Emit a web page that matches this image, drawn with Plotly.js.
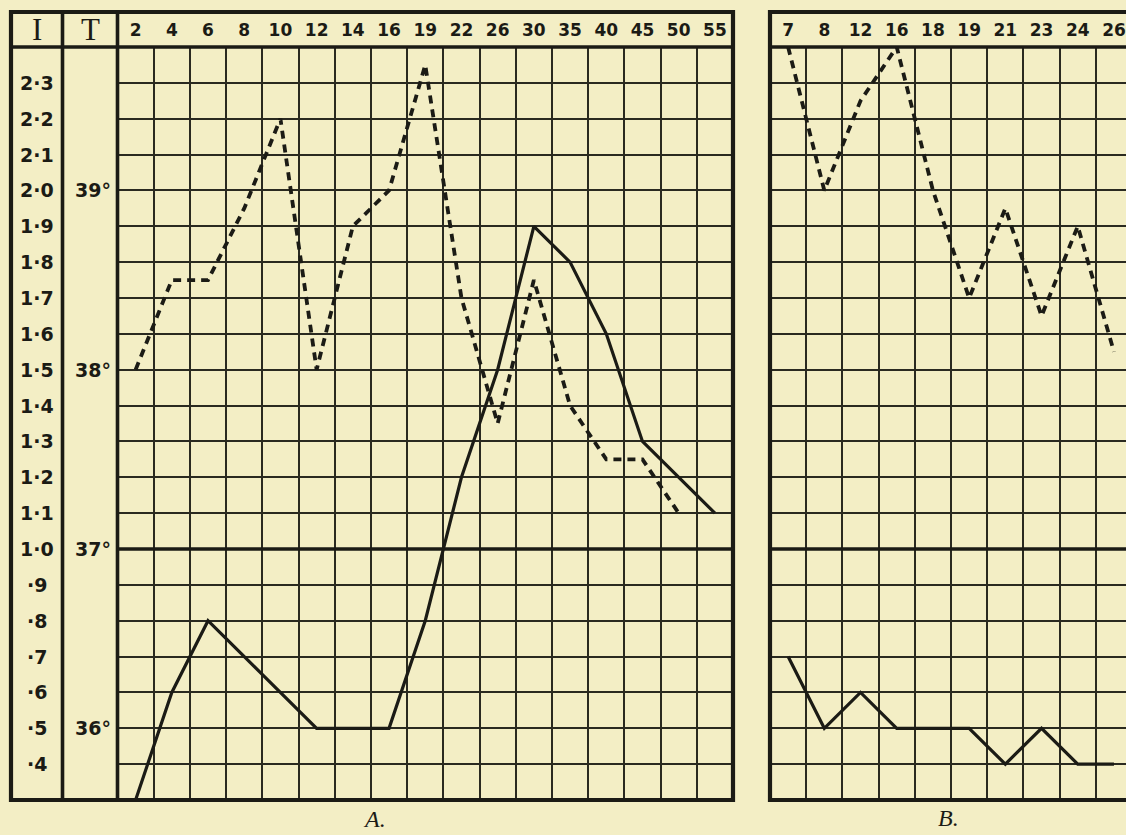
<!DOCTYPE html>
<html>
<head>
<meta charset="utf-8">
<script src="https://cdn.plot.ly/plotly-3.0.1.min.js"></script>
<style>
  html, body { margin: 0; padding: 0; background: #f3eec5; }
  #chart { width: 1126px; height: 835px; }
</style>
</head>
<body>
<div id="chart"></div>
<script>
// ---- Data ----
// Chart A: days of illness (column headers)
const daysA = ["2","4","6","8","10","12","14","16","19","22","26","30","35","40","45","50","55"];
// Dashed line: temperature (°C)
const tempA = [38.0, 38.5, 38.5, 38.9, 39.4, 38.0, 38.8, 39.0, 39.7, 38.4, 37.7, 38.5, 37.8, 37.5, 37.5, 37.2, null];
// Solid line: index I
const indexA = [0.3, 0.6, 0.8, 0.7, 0.6, 0.5, 0.5, 0.5, 0.8, 1.2, 1.5, 1.9, 1.8, 1.6, 1.3, 1.2, 1.1];

// Chart B
const daysB = ["7","8","12","16","18","19","21","23","24","26"];
const tempB = [39.8, 39.0, 39.5, 39.8, 39.0, 38.4, 38.9, 38.3, 38.8, 38.1];
const indexB = [0.7, 0.5, 0.6, 0.5, 0.5, 0.5, 0.4, 0.5, 0.4, 0.4];

// Scale column "I" tick values and labels
const iTickVals = [2.3, 2.2, 2.1, 2.0, 1.9, 1.8, 1.7, 1.6, 1.5, 1.4, 1.3, 1.2, 1.1, 1.0, 0.9, 0.8, 0.7, 0.6, 0.5, 0.4];
const iTickText = ["2·3","2·2","2·1","2·0","1·9","1·8","1·7","1·6","1·5","1·4","1·3","1·2","1·1","1·0","·9","·8","·7","·6","·5","·4"];
// Scale column "T" tick values and labels
const tTickVals = [39, 38, 37, 36];
const tTickText = ["39°", "38°", "37°", "36°"];
const normalTemp = 37;      // heavy reference line
const normalIndex = 1.0;
const panelLabels = ["A.", "B."];

// ---- Layout helpers ----
const W = 1126, H = 835;
const px = x => x / W;
const py = y => 1 - y / H;

const INK = "#1b1b15";
const GRID = "#2a2a20";
const BG = "#f3eec5";

const yDomain = [py(800), py(47)];
const iRange = [0.3, 2.4];
const tRange = [normalTemp + (iRange[0] - normalIndex) * 2, normalTemp + (iRange[1] - normalIndex) * 2];

const solidLine = { color: INK, width: 3.2 };
const dashLine = { color: INK, width: 3.8, dash: "8px,6px" };

const traces = [
  { x: daysA, y: indexA, xaxis: "x", yaxis: "y", type: "scatter", mode: "lines", line: solidLine, hoverinfo: "skip" },
  { x: daysA, y: tempA, xaxis: "x", yaxis: "y2", type: "scatter", mode: "lines", line: dashLine, connectgaps: false, hoverinfo: "skip" },
  { x: daysB, y: indexB, xaxis: "x2", yaxis: "y3", type: "scatter", mode: "lines", line: solidLine, hoverinfo: "skip" },
  { x: daysB, y: tempB, xaxis: "x2", yaxis: "y4", type: "scatter", mode: "lines", line: dashLine, hoverinfo: "skip" }
];

const labelFont = { family: "DejaVu Sans", size: 17, color: INK, weight: "bold" };
const scaleFont = { family: "DejaVu Sans", size: 19, color: INK, weight: "bold" };

const xCommon = {
  type: "category", side: "top", tickson: "boundaries", ticks: "",
  showgrid: true, gridcolor: GRID, gridwidth: 2, showline: false, zeroline: false,
  tickfont: labelFont, ticklabelstandoff: 7,
  fixedrange: true
};
const yCommon = {
  range: iRange, tick0: 0, dtick: 0.1, showticklabels: false, ticks: "",
  showgrid: true, gridcolor: GRID, gridwidth: 2, zeroline: false, showline: false,
  domain: yDomain, fixedrange: true
};

const annotations = [];
iTickVals.forEach((v, k) => annotations.push({
  xref: "paper", yref: "y", x: px(37), y: v, text: iTickText[k], showarrow: false,
  xanchor: "center", yanchor: "middle", font: scaleFont
}));
tTickVals.forEach((v, k) => annotations.push({
  xref: "paper", yref: "y2", x: px(93), y: v, text: tTickText[k], showarrow: false,
  xanchor: "center", yanchor: "middle", font: scaleFont
}));
annotations.push({ xref: "paper", yref: "paper", x: px(37), y: py(29), text: "I", showarrow: false,
  xanchor: "center", yanchor: "middle", font: { family: "Liberation Serif", size: 31, color: INK } });
annotations.push({ xref: "paper", yref: "paper", x: px(90), y: py(29), text: "T", showarrow: false,
  xanchor: "center", yanchor: "middle", font: { family: "Liberation Serif", size: 31, color: INK } });
annotations.push({ xref: "paper", yref: "paper", x: px(374), y: py(819), text: "<i>" + panelLabels[0] + "</i>", showarrow: false,
  xanchor: "center", yanchor: "middle", font: { family: "Liberation Serif", size: 24, color: INK } });
annotations.push({ xref: "paper", yref: "paper", x: px(948), y: py(818), text: "<i>" + panelLabels[1] + "</i>", showarrow: false,
  xanchor: "center", yanchor: "middle", font: { family: "Liberation Serif", size: 24, color: INK } });

const border = { color: INK, width: 4.2 };
const divider = { color: INK, width: 3.6 };
const shapes = [
  // Panel A frame
  { type: "rect", xref: "paper", yref: "paper", x0: px(11), x1: px(733), y0: py(12), y1: py(800), line: border },
  { type: "line", xref: "paper", yref: "paper", x0: px(11), x1: px(733), y0: py(47), y1: py(47), line: divider },
  { type: "line", xref: "paper", yref: "paper", x0: px(62.5), x1: px(62.5), y0: py(12), y1: py(800), line: divider },
  { type: "line", xref: "paper", yref: "paper", x0: px(117.5), x1: px(117.5), y0: py(12), y1: py(800), line: divider },
  // Panel B frame (cut off at right)
  { type: "rect", xref: "paper", yref: "paper", x0: px(770), x1: px(1140), y0: py(12), y1: py(800), line: border },
  { type: "line", xref: "paper", yref: "paper", x0: px(770), x1: px(1140), y0: py(47), y1: py(47), line: divider },
  // 37° heavy lines
  { type: "line", xref: "x domain", yref: "y", x0: 0, x1: 1, y0: normalIndex, y1: normalIndex, line: { color: INK, width: 3.6 } },
  { type: "line", xref: "x2 domain", yref: "y3", x0: 0, x1: 1, y0: normalIndex, y1: normalIndex, line: { color: INK, width: 3.6 } }
];

const colW = (733 - 117.5) / daysA.length;
const bVisibleCols = (W - 770) / colW;

const layout = {
  width: W, height: H,
  margin: { l: 0, r: 0, t: 0, b: 0, pad: 0 },
  paper_bgcolor: BG, plot_bgcolor: BG,
  showlegend: false,
  xaxis: Object.assign({}, xCommon, { domain: [px(117.5), px(733)], anchor: "y",
    categoryorder: "array", categoryarray: daysA, range: [-0.5, daysA.length - 0.5] }),
  xaxis2: Object.assign({}, xCommon, { domain: [px(770), 1], anchor: "y3",
    categoryorder: "array", categoryarray: daysB, range: [-0.5, -0.5 + bVisibleCols] }),
  yaxis: Object.assign({}, yCommon, { anchor: "x" }),
  yaxis2: { overlaying: "y", anchor: "x", range: tRange, visible: false, showgrid: false, fixedrange: true },
  yaxis3: Object.assign({}, yCommon, { anchor: "x2" }),
  yaxis4: { overlaying: "y3", anchor: "x2", range: tRange, visible: false, showgrid: false, fixedrange: true },
  shapes: shapes,
  annotations: annotations
};

Plotly.newPlot("chart", traces, layout, { staticPlot: true, displayModeBar: false });
</script>
</body>
</html>
